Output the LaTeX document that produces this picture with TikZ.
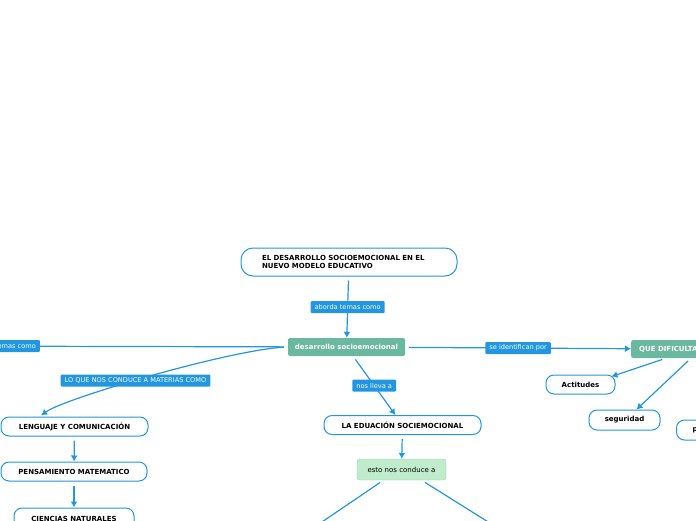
\documentclass[tikz,border=0pt]{standalone}
\usepackage{fontspec}
\setmainfont{DejaVu Sans}
\usetikzlibrary{positioning, arrows.meta}
\definecolor{mapblue}{RGB}{35,150,225}
\definecolor{mapteal}{RGB}{106,184,160}
\definecolor{mapgreen}{RGB}{192,236,205}
\definecolor{mapgreenline}{RGB}{140,212,176}

\begin{document}
\begin{tikzpicture}[x=1pt, y=-1pt,
        pill/.style={draw=mapblue, line width=1pt, fill=white, rounded corners=8pt, minimum height=19pt, inner xsep=4pt, font=\fontsize{7}{8}\selectfont\bfseries},
        topic/.style={fill=mapteal, text=white, rounded corners=2pt, minimum height=18pt, font=\fontsize{7}{8}\selectfont\bfseries},
        lbl/.style={fill=mapblue, text=white, rounded corners=1pt, minimum height=12pt, inner xsep=4pt, inner ysep=1pt, font=\fontsize{6.6}{7}\selectfont},
        conn/.style={draw=mapblue, line width=1.2pt, shorten <=4pt, -{Latex[length=6pt, width=7pt]}}]
        \useasboundingbox (0,0) rectangle (696,520);
        \clip (0,0) rectangle (696,520);

        \node[pill, rounded corners=12pt, minimum height=28pt, text width=174pt, inner xsep=21pt, align=left, font=\fontsize{7}{7.5}\selectfont\bfseries] at (349,262) (titulo) {EL DESARROLLO SOCIOEMOCIONAL EN EL\\NUEVO MODELO EDUCATIVO};
        \node[topic, minimum width=117pt] at (346.5,347) (desarrollo) {desarrollo socioemocional};
        \node[topic, anchor=west, inner xsep=8pt] at (631,349) (dificultades) {QUE DIFICULTADES};
        \node[pill, minimum width=147pt] at (74.5,426.5) (lenguaje) {LENGUAJE Y COMUNICACIÓN};
        \node[pill, minimum width=146pt] at (74,471.5) (pensamiento) {PENSAMIENTO MATEMATICO};
        \node[pill, minimum width=120pt, minimum height=22pt] at (74,519) (ciencias) {CIENCIAS NATURALES};
        \node[pill, minimum width=157pt] at (402.5,425) (educacion) {LA EDUACIÓN SOCIEMOCIONAL};
        \node[draw=mapgreenline, fill=mapgreen, rounded corners=3pt, minimum width=89pt, minimum height=21pt, font=\fontsize{7}{8}\selectfont] at (401.5,469.5) (conduce) {esto nos conduce a};
        \node[pill, minimum width=69pt] at (580.5,384.5) (actitudes) {Actitudes};
        \node[pill, minimum width=71pt, minimum height=20pt] at (624.5,420) (seguridad) {seguridad};
        \node[pill, anchor=west, text width=50pt, inner xsep=16pt, align=left, minimum height=20pt] at (676,430) (otra) {p};

        \coordinate (izquierda) at (-80,346);
        \coordinate (abajoizq) at (288,545);
        \coordinate (abajoder) at (525,545);

        \draw[conn] (titulo) -- (desarrollo) node[lbl, pos=0.5] {aborda temas como};
        \draw[conn] (desarrollo) -- (izquierda);
        \node[lbl, anchor=east] at (40,346) (lbltemas) {aborda temas como};
        \draw[conn, shorten >=2pt] (desarrollo.west) .. controls (230,350) and (65,398) .. ([xshift=-35pt]lenguaje.north);
        \node[lbl] at (135.5,380.5) (lblmaterias) {LO QUE NOS CONDUCE A MATERIAS COMO};
        \draw[conn] (desarrollo) -- (educacion) node[lbl, pos=0.5] {nos lleva a};
        \draw[conn] (desarrollo) -- (dificultades) node[lbl, pos=0.5] {se identifican por};

        \draw[conn] (lenguaje) -- (pensamiento);
        \draw[conn] (pensamiento) -- (ciencias);
        \draw[conn] (educacion) -- (conduce);
        \draw[conn] ([xshift=-18pt]conduce.south) -- (abajoizq);
        \draw[conn] ([xshift=20pt]conduce.south) -- (abajoder);
        \draw[conn] ([xshift=35pt]dificultades.south west) -- ([xshift=-4pt, yshift=-2pt]actitudes.north east);
        \draw[conn] ([xshift=60pt]dificultades.south west) -- ([xshift=12pt]seguridad.north);
    \end{tikzpicture}
\end{document}
